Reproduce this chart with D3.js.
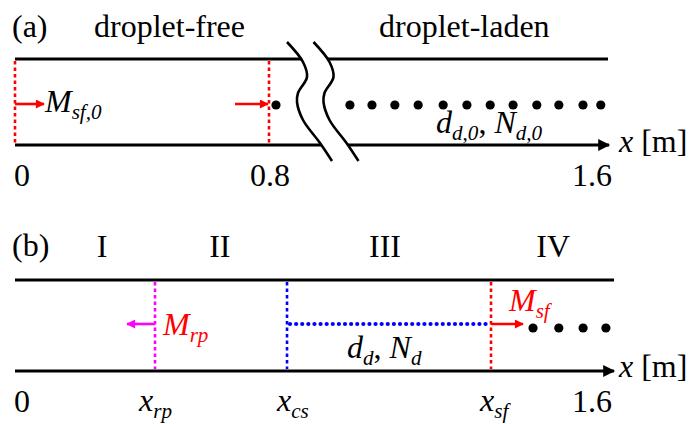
<!DOCTYPE html>
<html><head><meta charset="utf-8">
<script src="https://cdn.jsdelivr.net/npm/d3@7"></script>
<style>html,body{margin:0;padding:0;background:#fff;}svg{display:block;}</style>
</head><body>
<script>
// ---- data (schematic positions in metres along the tube) ----
const tickA = [{v:0,t:"0"},{v:0.8,t:"0.8"},{v:1.6,t:"1.6"}];
const frontsA = [0, 0.8];                       // red dotted fronts in (a)
const dropletsA = [0.8165, 0.991, 1.043, 1.097, 1.152, 1.211, 1.267, 1.322, 1.376, 1.432, 1.484, 1.541, 1.583];
const regionsB = [{t:"I",v:0.233},{t:"II",v:0.548},{t:"III",v:0.99},{t:"IV",v:1.44}];
const frontsB = [{name:"rp",v:0.3746,color:"#ff00ff",dx:-16},{name:"cs",v:0.7278,color:"#0000ff",dx:-10},{name:"sf",v:1.2736,color:"#ff0000",dx:-11}];
const dropletsB = [1.386, 1.455, 1.520, 1.581];

const W=692,H=424;
const svg=d3.select("body").append("svg").attr("width",W).attr("height",H);
const FONT="'Liberation Serif','Times New Roman',serif";
const FS=32, SX=1;

// scales
const xa=d3.scaleLinear().domain([0,0.8,1.6]).range([15,269,608]);
const xb=d3.scaleLinear().domain([0,1.6]).range([15,613]);

// arrow markers
const defs=svg.append("defs");
function marker(id,color,w,h){
  defs.append("marker").attr("id",id).attr("viewBox","0 0 10 10").attr("refX",9).attr("refY",5)
   .attr("markerUnits","userSpaceOnUse").attr("markerWidth",w).attr("markerHeight",h).attr("orient","auto")
   .append("path").attr("d","M0,0L10,5L0,10Z").attr("fill",color);
}
marker("ahK","#000",17,12);
marker("ahR","#ff0000",12,9);
marker("ahM","#ff00ff",12,9);

function label(x,y,parts,opt={}){
  const fs=opt.fs||FS;
  const g=svg.append("g").attr("transform",`translate(${x},${y}) scale(${opt.sx||SX},1)`);
  const t=g.append("text").attr("font-family",FONT).attr("font-size",fs).attr("fill",opt.color||"#000")
    .attr("text-anchor",opt.anchor||"start");
  let cur=0;
  parts.forEach(p=>{
    const sub=p.sub;
    const ts=t.append("tspan").text(p.t);
    if(p.i) ts.attr("font-style","italic");
    const target= sub?7:0;
    if(target!==cur){ts.attr("dy",target-cur);cur=target;}
    if(sub) ts.attr("font-size",fs*0.66);
  });
  return t;
}

// ================= Panel (a) =================
const yTopA=59, yBotA=145, yDropA=105;
svg.append("line").attr("x1",xa(0)).attr("x2",xa(1.6)).attr("y1",yTopA).attr("y2",yTopA).attr("stroke","#000").attr("stroke-width",3);
svg.append("line").attr("x1",xa(0)).attr("x2",xa(1.6)+1).attr("y1",yBotA).attr("y2",yBotA).attr("stroke","#000").attr("stroke-width",3).attr("marker-end","url(#ahK)");

// break symbol (offsets relative to break position)
const breakPts=[[-24,42],[-8,62],[-4,77],[-13,93],[-14,102],[-8,120],[9,143],[21,161]];
const bx=311, bgap=26.5;
const line=d3.line().curve(d3.curveCatmullRom.alpha(0.5));
const c1=breakPts.map(p=>[bx+p[0],p[1]]), c2=breakPts.map(p=>[bx+bgap+p[0],p[1]]);
svg.append("path").attr("d",line(c1)+"L"+line(c2.slice().reverse()).slice(1)+"Z").attr("fill","#fff");
svg.append("path").attr("d",line(c1)).attr("fill","none").attr("stroke","#000").attr("stroke-width",2.6);
svg.append("path").attr("d",line(c2)).attr("fill","none").attr("stroke","#000").attr("stroke-width",2.6);

// red fronts
frontsA.forEach(v=>{
  svg.append("line").attr("x1",xa(v)).attr("x2",xa(v)).attr("y1",yTopA+2).attr("y2",yBotA-2)
    .attr("stroke","#ff0000").attr("stroke-width",2.6).attr("stroke-dasharray","3.5,3");
});
// red arrows
svg.append("line").attr("x1",xa(0)).attr("x2",xa(0)+29).attr("y1",yDropA-1).attr("y2",yDropA-1).attr("stroke","#ff0000").attr("stroke-width",2.6).attr("marker-end","url(#ahR)");
svg.append("line").attr("x1",xa(0.8)-34).attr("x2",xa(0.8)-1).attr("y1",yDropA-1).attr("y2",yDropA-1).attr("stroke","#ff0000").attr("stroke-width",2.6).attr("marker-end","url(#ahR)");
// droplets
svg.selectAll("circle.da").data(dropletsA).enter().append("circle").attr("cx",d=>xa(d)).attr("cy",yDropA).attr("r",4.6).attr("fill","#000");

// texts (a)
label(12,37,[{t:"(a)"}]);
label(94,37,[{t:"droplet-free"}]);
label(379,37,[{t:"droplet-laden"}]);
label(45,112,[{t:"M",i:1},{t:"sf,0",i:1,sub:1}]);
label(436,133,[{t:"d",i:1},{t:"d,0",i:1,sub:1},{t:", "},{t:"N",i:1},{t:"d,0",i:1,sub:1}]);
label(619,152,[{t:"x",i:1},{t:" [m]"}]);
tickA.forEach(d=>{
  const anchor=d.v===0?"start":(d.v===1.6?"end":"middle");
  const x=d.v===0?14:(d.v===1.6?612:xa(d.v)+1);
  label(x,186,[{t:d.t}],{anchor});
});

// ================= Panel (b) =================
const yTopB=280, yBotB=371, yDropB=328, yFlowB=324;
svg.append("line").attr("x1",xb(0)).attr("x2",xb(1.6)+1).attr("y1",yTopB).attr("y2",yTopB).attr("stroke","#000").attr("stroke-width",3);
svg.append("line").attr("x1",xb(0)).attr("x2",xb(1.6)+1).attr("y1",yBotB).attr("y2",yBotB).attr("stroke","#000").attr("stroke-width",3).attr("marker-end","url(#ahK)");

frontsB.forEach(f=>{
  svg.append("line").attr("x1",xb(f.v)).attr("x2",xb(f.v)).attr("y1",yTopB+2).attr("y2",yBotB-2)
    .attr("stroke",f.color).attr("stroke-width",2.6).attr("stroke-dasharray","3.5,3");
});
const fr=Object.fromEntries(frontsB.map(f=>[f.name,f.v]));
// blue droplet cloud (fine dotted)
svg.append("line").attr("x1",xb(fr.cs)+3).attr("x2",xb(fr.sf)-2).attr("y1",yFlowB).attr("y2",yFlowB)
  .attr("stroke","#0000ff").attr("stroke-width",4.2).attr("stroke-linecap","round").attr("stroke-dasharray","0.01,6.1");
// arrows
svg.append("line").attr("x1",xb(fr.rp)).attr("x2",xb(fr.rp)-28).attr("y1",yFlowB).attr("y2",yFlowB).attr("stroke","#ff00ff").attr("stroke-width",2.6).attr("marker-end","url(#ahM)");
svg.append("line").attr("x1",xb(fr.sf)).attr("x2",xb(fr.sf)+32).attr("y1",yFlowB).attr("y2",yFlowB).attr("stroke","#ff0000").attr("stroke-width",2.6).attr("marker-end","url(#ahR)");
svg.selectAll("circle.db").data(dropletsB).enter().append("circle").attr("cx",d=>xb(d)).attr("cy",yDropB).attr("r",4.6).attr("fill","#000");

// texts (b)
label(12,256,[{t:"(b)"}]);
regionsB.forEach(r=>label(xb(r.v),257,[{t:r.t}],{anchor:"middle"}));
label(163,335,[{t:"M",i:1},{t:"rp",i:1,sub:1}],{color:"#ff0000"});
label(509,311,[{t:"M",i:1},{t:"sf",i:1,sub:1}],{color:"#ff0000"});
label(347,358,[{t:"d",i:1},{t:"d",i:1,sub:1},{t:", "},{t:"N",i:1},{t:"d",i:1,sub:1}]);
label(619,377,[{t:"x",i:1},{t:" [m]"}]);
label(14,412,[{t:"0"}]);
label(612,412,[{t:"1.6"}],{anchor:"end"});
frontsB.forEach(f=>label(xb(f.v)+f.dx,411,[{t:"x",i:1},{t:f.name,i:1,sub:1}]));
</script>
</body></html>
